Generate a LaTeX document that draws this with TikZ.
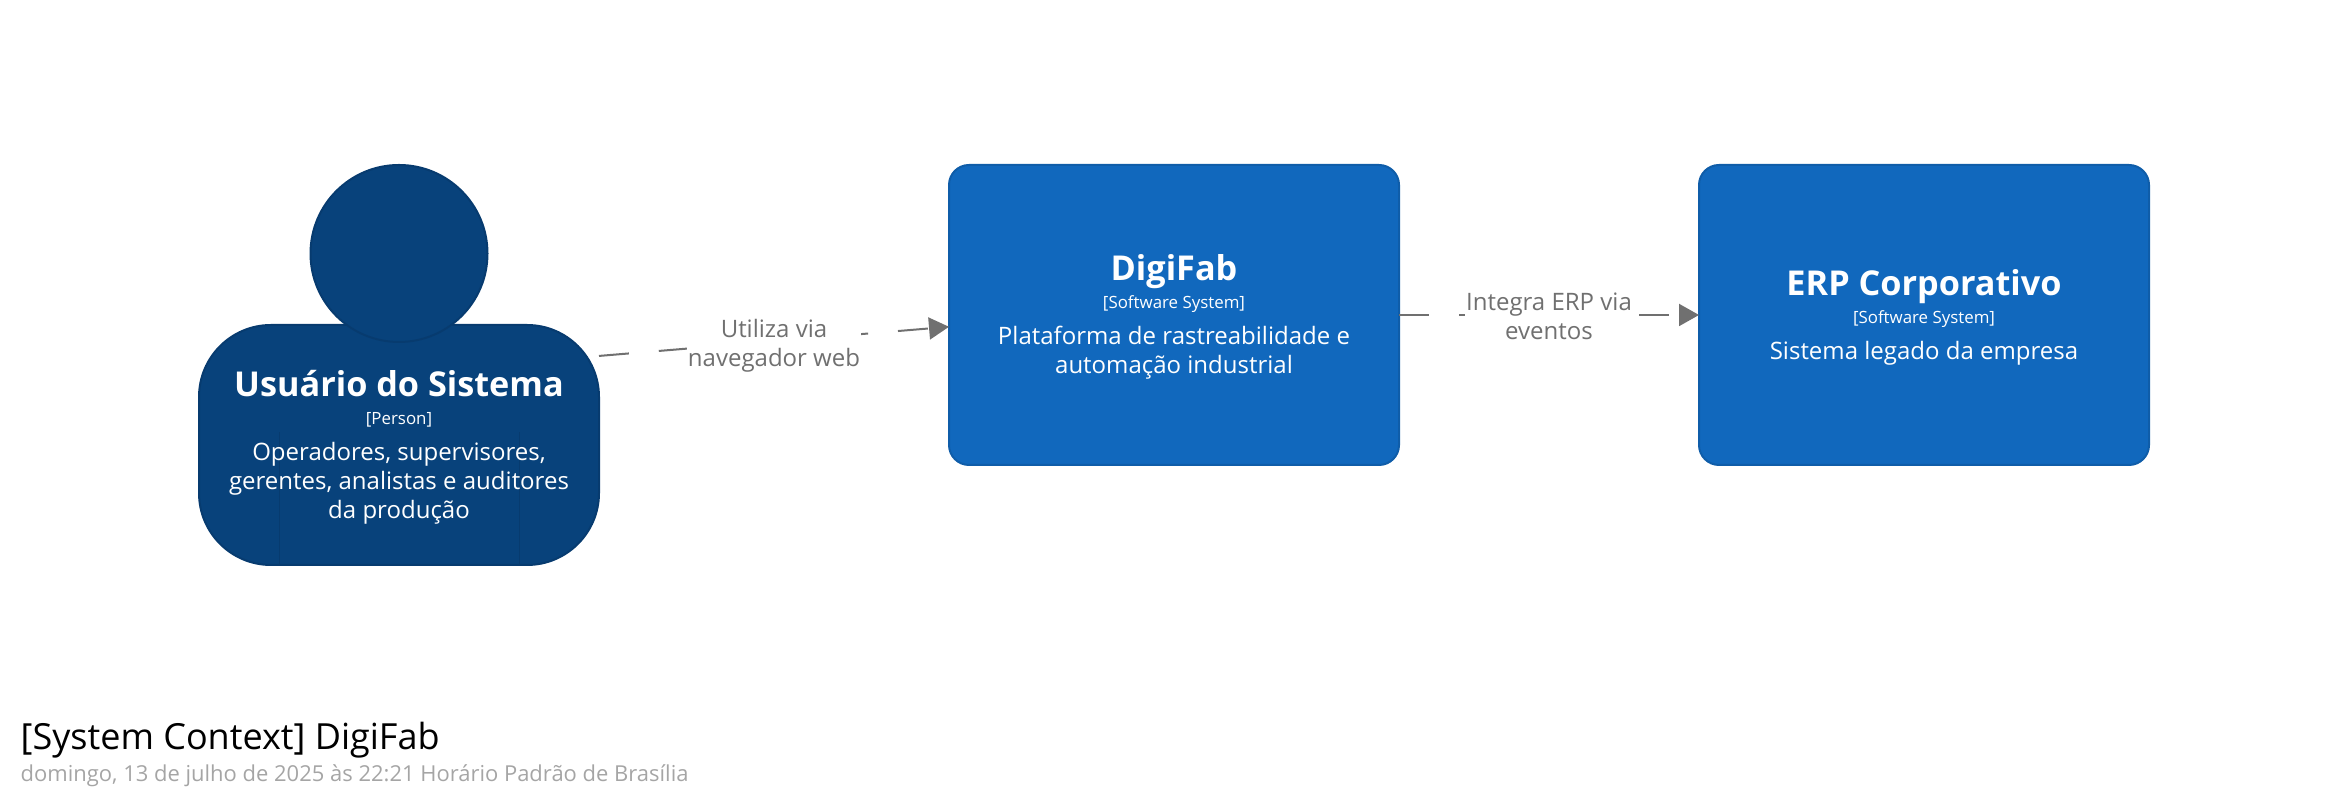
\documentclass[tikz,border=0pt]{standalone}
\usepackage{fontspec}
\usepackage{tikz}
\usepackage{xcolor}
\usetikzlibrary{arrows.meta}
\setmainfont{Open Sans}
\definecolor{personblue}{HTML}{08427B}
\definecolor{personline}{HTML}{073B6F}
\definecolor{systemblue}{HTML}{1168BD}
\definecolor{systemline}{HTML}{0F5DA9}
\definecolor{relgray}{HTML}{707070}
\definecolor{dategray}{HTML}{A5A5A5}
\newcommand{\bodyfont}{\fontsize{6.83pt}{8.25pt}\selectfont}
\newcommand{\namefont}{\fontsize{9.74pt}{8.25pt}\selectfont\bfseries}
\newcommand{\typefont}{\fontsize{4.8pt}{8.25pt}\selectfont}
\newcommand{\elemtext}[3]{{\namefont #1}\\[-0.28pt]{\typefont #2}\\[2pt]#3}

\begin{document}
\begin{tikzpicture}[
    sysbox/.style={rectangle,draw=systemline,fill=systemblue,line width=0.02cm,rounded corners=0.2cm,
      minimum width=4.5cm,minimum height=3cm,outer sep=0pt},
    personbody/.style={rectangle,draw=personline,fill=personblue,line width=0.02cm,rounded corners=0.72cm,
      minimum width=4cm,minimum height=2.4cm,outer sep=0pt},
    personhead/.style={circle,draw=personline,fill=personblue,line width=0.02cm,minimum size=1.77cm,outer sep=0pt},
    whitetext/.style={text=white,align=center,font=\bodyfont,inner sep=0pt},
    rel/.style={draw=relgray,line width=0.02cm,dash pattern=on 0.3cm off 0.3cm,
      -{Triangle[length=0.2cm,width=0.22cm,fill=relgray]}},
    rellabel/.style={fill=white,text=relgray,align=center,font=\bodyfont,inner sep=0.01cm}]
  \useasboundingbox (0,0) rectangle (23.5,8);
  % ---- person ----
  \node[personbody] (usuario) at (3.99,3.55) {};
  \node[personhead] (head) at (3.99,5.465) {};
  \draw[personline,line width=0.01cm] (2.79,2.35) -- (2.79,3.68);
  \draw[personline,line width=0.01cm] (5.19,2.35) -- (5.19,3.68);
  \node[whitetext] (usuariotext) at (3.99,3.525) {\elemtext{Usuário do Sistema}{[Person]}{Operadores, supervisores,\\gerentes, analistas e auditores\\da produção}};
  % ---- systems ----
  \node[sysbox] (digifab) at (11.74,4.85) {};
  \node[whitetext] (digifabtext) at (11.74,4.83) {\elemtext{DigiFab}{[Software System]}{Plataforma de rastreabilidade e\\automação industrial}};
  \node[sysbox] (erp) at (19.24,4.85) {};
  \node[whitetext] (erptext) at (19.24,4.83) {\elemtext{ERP Corporativo}{[Software System]}{Sistema legado da empresa}};
  % ---- relations ----
  \draw[rel] (usuario.24.8) -- node[rellabel,yshift=-0.04cm] (utiliza) {Utiliza via\\navegador web} (digifab.183.5);
  \draw[rel] (digifab.east) -- node[rellabel,yshift=-0.01cm] (integra) {Integra ERP via\\eventos} (erp.west);
  % ---- title ----
  \node[anchor=base west,inner sep=0pt,font=\fontsize{10.24pt}{12pt}\selectfont] (title) at (0.2,0.5) {[System Context] DigiFab};
  \node[anchor=base west,inner sep=0pt,text=dategray,font=\fontsize{6.25pt}{8pt}\selectfont] (date) at (0.2,0.18) {domingo, 13 de julho de 2025 às 22:21 Horário Padrão de Brasília};
\end{tikzpicture}
\end{document}
